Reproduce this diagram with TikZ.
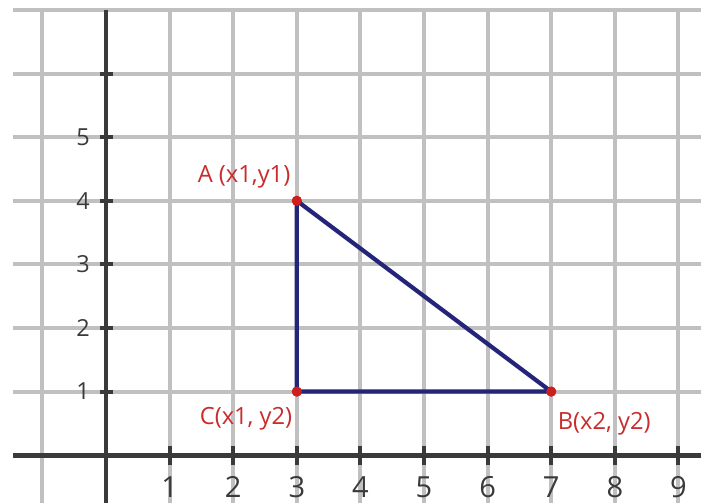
\documentclass[tikz,border=0pt]{standalone}
\usepackage{fontspec}
\setmainfont{Open Sans}
\usepackage{tikz}
\usepackage{xcolor}
\usetikzlibrary{positioning}

\definecolor{gridgray}{RGB}{192,192,192}
\definecolor{axisgray}{RGB}{58,58,58}
\definecolor{navy}{RGB}{36,36,120}
\definecolor{ptred}{RGB}{204,30,30}
\definecolor{labelred}{RGB}{200,44,44}

\begin{document}
\begin{tikzpicture}[x=1cm,y=1cm]
\tikzstyle{gridline}=[draw=gridgray, line width=1.8pt]
\tikzstyle{axis}=[draw=axisgray, line width=2.2pt]
\tikzstyle{tickmark}=[draw=axisgray, line width=1.8pt]
\tikzstyle{side}=[draw=navy, line width=1.9pt, line join=round]
\tikzstyle{point}=[circle, fill=ptred, inner sep=0pt, minimum size=4.5pt]
\tikzstyle{ptlabel}=[text=labelred, font=\fontsize{10.6}{12}\selectfont, inner sep=1pt]
\tikzstyle{xnum}=[text=axisgray, font=\fontsize{13}{15}\selectfont, inner sep=0pt]
\tikzstyle{ynum}=[text=axisgray, font=\fontsize{10.5}{12}\selectfont, inner sep=0pt]

\useasboundingbox (-1.667,-0.74) rectangle (9.355,7.157);
\clip (-1.667,-0.74) rectangle (9.355,7.157);

\foreach \x in {-1,1,2,...,9}
  \draw[gridline] (\x,7) -- (\x,-0.8);
\foreach \y in {1,...,7}
  \draw[gridline] (-1.46,\y) -- (9.4,\y);

\draw[axis] (-1.46,0) -- (9.4,0);
\draw[axis] (0,7) -- (0,-0.8);

\foreach \x in {1,...,9} {
  \draw[tickmark] (\x,0.14) -- (\x,-0.16);
  \node (xl\x) [xnum] at (\x,-0.5) {\x};
}
\foreach \y in {1,...,6}
  \draw[tickmark] (-0.1,\y) -- (0.11,\y);
\foreach \y in {1,...,5}
  \node (yl\y) [ynum] at (-0.36,\y) {\y};

\node (A) [point] at (3,4) {};
\node (B) [point] at (7,1) {};
\node (C) [point] at (3,1) {};

\draw[side] (A.center) -- (B.center) -- (C.center) -- cycle;
\node (A) [point] at (3,4) {};
\node (B) [point] at (7,1) {};
\node (C) [point] at (3,1) {};

\node (la) [ptlabel, above left=0.09cm and 0cm of A] {A (x1,y1)};
\node (lc) [ptlabel, below left=0.14cm and -0.03cm of C] {C(x1, y2)};
\node (lb) [ptlabel, below right=0.22cm and 0cm of B] {B(x2, y2)};

\end{tikzpicture}
\end{document}
